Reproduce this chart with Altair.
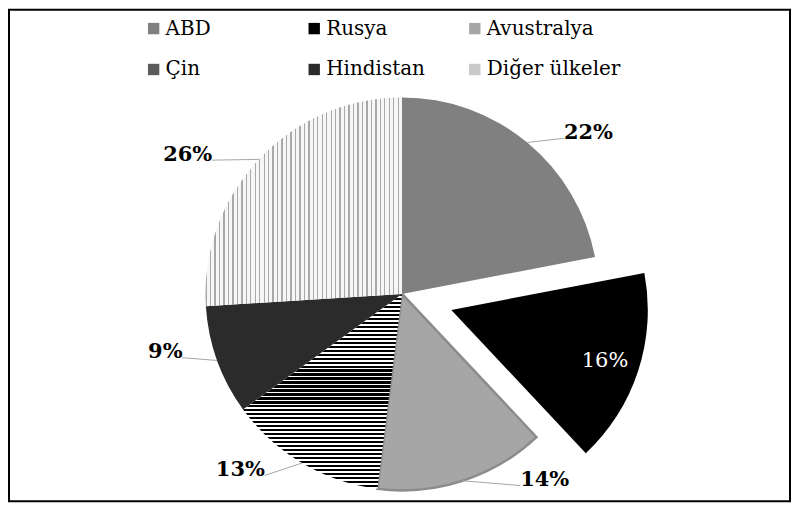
import altair as alt
import pandas as pd

# ---- data ----
countries = ["ABD", "Rusya", "Avustralya", "Çin", "Hindistan", "Diğer ülkeler"]
shares = [22, 16, 14, 13, 9, 26]
labels = ["22%", "16%", "14%", "13%", "9%", "26%"]

# ---- layout / style (not data) ----
legend_colors = ["#808080", "#000000", "#a6a6a6", "#5c5c5c", "#2b2b2b", "#c9c9c9"]
label_nudge_deg = [9.3, 0, -19.7, 12.2, 6.3, -9.9]
label_radius = [248, 162, 234, 238.5, 244, 257]
exploded = "Rusya"

CX, CY, R = 394, 285, 197
EXPLODE = 52
total = sum(shares)
FONT = "DejaVu Serif"


def stripes(n, frac, dark, light, vertical):
    stops = []
    for i in range(n):
        a = i / n
        b = (i + frac) / n
        c = (i + 1) / n
        stops += [
            {"offset": a, "color": dark},
            {"offset": b, "color": dark},
            {"offset": b, "color": light},
            {"offset": c, "color": light},
        ]
    g = {"gradient": "linear", "x1": 0, "y1": 0, "stops": stops}
    if vertical:  # vertical lines -> gradient runs along x
        g.update({"x2": 1, "y2": 0})
    else:
        g.update({"x2": 0, "y2": 1})
    return g


grad_cin = stripes(49, 0.55, "#000000", "#ffffff", vertical=False)
grad_diger = stripes(44, 0.3, "#a8a8a8", "#f6f6f6", vertical=True)

df = pd.DataFrame(
    {
        "country": countries,
        "value": shares,
        "label": labels,
        "order": list(range(len(countries))),
        "nudge": label_nudge_deg,
        "lr": label_radius,
    }
)

base = (
    alt.Chart(df)
    .transform_stack(
        stack="value", groupby=[], as_=["start", "end"], sort=[alt.SortField("order")]
    )
    .transform_calculate(
        mid=f"(datum.start + datum.end) / 2 / {total} * 2 * PI",
        ex_off=f"datum.country === '{exploded}' ? {EXPLODE} : 0",
    )
    .transform_calculate(
        ocx=f"{CX} + datum.ex_off * sin(datum.mid)",
        ocy=f"{CY} - datum.ex_off * cos(datum.mid)",
        la="datum.mid + datum.nudge * PI / 180",
    )
    .transform_calculate(
        ex=f"datum.ocx + {R} * sin(datum.mid)",
        ey=f"datum.ocy - {R} * cos(datum.mid)",
        lx="datum.ocx + datum.lr * sin(datum.la)",
        ly="datum.ocy - datum.lr * cos(datum.la)",
        side="sin(datum.la) >= 0 ? 1 : -1",
        hw="length(datum.label) * 7.8 + 1",
    )
    .transform_calculate(
        tx="datum.lx - datum.side * datum.hw",
        ty="datum.ly + 7",
        ty_text="datum.ly + 7.6",
    )
)

legend = alt.Legend(
    title=None,
    orient="none",
    legendX=135,
    legendY=9,
    columns=3,
    direction="horizontal",
    symbolType="square",
    symbolSize=130,
    symbolStrokeWidth=0,
    labelFont=FONT,
    labelFontSize=20,
    labelColor="black",
    labelOffset=2,
    labelLimit=300,
    columnPadding=4,
    rowPadding=21,
    gridAlign="all",
    padding=0,
)

fill = alt.Fill(
    field="country",
    type="nominal",
    scale=alt.Scale(domain=countries, range=legend_colors),
    legend=legend,
    condition=[
        {"test": "datum.country === 'Çin'", "value": grad_cin},
        {"test": "datum.country === 'Diğer ülkeler'", "value": grad_diger},
    ],
)

pie = base.mark_arc(radius=R, strokeWidth=2.5).encode(
    theta=alt.Theta("start:Q", scale=alt.Scale(domain=[0, total])),
    theta2="end:Q",
    x=alt.X("ocx:Q", scale=None, axis=None),
    y=alt.Y("ocy:Q", scale=None, axis=None),
    fill=fill,
    stroke=alt.when(alt.datum.country == "Avustralya")
    .then(alt.value("#8c8c8c"))
    .otherwise(alt.value("transparent")),
)

outer = base.transform_filter(alt.datum.country != exploded)

leaders = outer.mark_rule(color="#a6a6a6", strokeWidth=1).encode(
    x=alt.X("ex:Q", scale=None, axis=None),
    y=alt.Y("ey:Q", scale=None, axis=None),
    x2="tx:Q",
    y2="ty:Q",
)

text_outer = outer.mark_text(
    font=FONT, fontSize=21, fontWeight="bold", color="black", baseline="alphabetic"
).encode(
    x=alt.X("lx:Q", scale=None, axis=None),
    y=alt.Y("ty_text:Q", scale=None, axis=None),
    text="label:N",
)

text_inner = (
    base.transform_filter(alt.datum.country == exploded)
    .mark_text(font=FONT, fontSize=21, color="white", baseline="alphabetic")
    .encode(
        x=alt.X("lx:Q", scale=None, axis=None),
        y=alt.Y("ty_text:Q", scale=None, axis=None),
        text="label:N",
    )
)

chart = (
    alt.layer(pie, leaders, text_outer, text_inner)
    .properties(width=783, height=493, padding=1, background="white")
    .configure_view(stroke="black", strokeWidth=2)
    .configure_legend(labelFont=FONT, labelFontSize=20, labelColor="black")
)

chart.save("out.html", embed_options={"renderer": "svg", "actions": False})
